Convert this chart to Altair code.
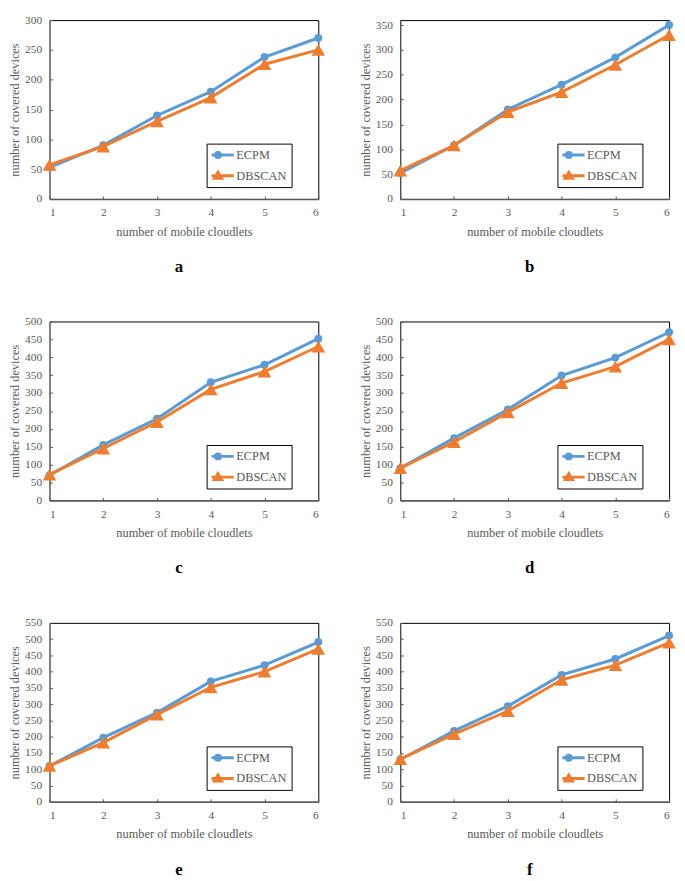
import altair as alt
import pandas as pd

# ---- data ----
x_vals = [1, 2, 3, 4, 5, 6]
series_names = ["ECPM", "DBSCAN"]

ecpm_a = [53, 90, 140, 180, 238, 270]
dbscan_a = [57, 88, 130, 170, 226, 250]
ecpm_b = [52, 108, 180, 230, 285, 350]
dbscan_b = [57, 108, 175, 215, 270, 330]
ecpm_c = [70, 155, 228, 330, 379, 452]
dbscan_c = [72, 145, 219, 310, 360, 430]
ecpm_d = [90, 174, 254, 349, 399, 470]
dbscan_d = [90, 163, 246, 328, 374, 450]
ecpm_e = [110, 197, 274, 370, 420, 491]
dbscan_e = [110, 182, 268, 352, 400, 470]
ecpm_f = [130, 218, 294, 390, 439, 511]
dbscan_f = [131, 208, 279, 375, 420, 489]

panel_letters = ["a", "b", "c", "d", "e", "f"]
y_max = [300, 360, 500, 500, 550, 550]
y_tick_top = [300, 350, 500, 500, 550, 550]

# ---- styling ----
FONT = "Liberation Serif"
GRAY = "#595959"
BLUE = "#5B9BD5"
ORANGE = "#ED7D31"
W = 272
H = 181

# legend symbols: a line segment with the series marker in the middle
CIRC = "M-3.2,0H3.2M-0.5,0A0.5,0.5,0,1,1,0.5,0A0.5,0.5,0,1,1,-0.5,0Z"
TRI = "M-3.2,0H3.2M0,-0.7L0.72,0.5L-0.72,0.5Z"


def panel(letter, ecpm, dbscan, ymax, ytop):
    df = pd.DataFrame({
        "x": x_vals * 2,
        "y": ecpm + dbscan,
        "series": [series_names[0]] * 6 + [series_names[1]] * 6,
    })
    yticks = list(range(0, ytop + 1, 50))
    xscale = alt.Scale(domain=[1, 6], nice=False, zero=False)
    yscale = alt.Scale(domain=[0, ymax], nice=False)
    cscale = alt.Scale(domain=series_names, range=[BLUE, ORANGE])

    main_x = alt.Axis(values=x_vals, format="d", title="number of mobile cloudlets",
                      grid=False, ticks=False, labelPadding=8, titlePadding=7,
                      domainColor=GRAY, domainWidth=1.5,
                      labelFont=FONT, labelFontSize=11.5, labelColor=GRAY,
                      titleFont=FONT, titleFontSize=12.5, titleColor=GRAY,
                      titleFontWeight="normal")
    main_y = alt.Axis(values=yticks, title="number of covered devices",
                      grid=False, ticks=False, domain=False, labelPadding=8,
                      titlePadding=3,
                      labelFont=FONT, labelFontSize=11.5, labelColor=GRAY,
                      titleFont=FONT, titleFontSize=12.5, titleColor=GRAY,
                      titleFontWeight="normal")
    tick_x = alt.Axis(orient="top", offset=-H, values=x_vals, labels=False,
                      domain=False, grid=False, ticks=True, tickSize=3,
                      tickColor=GRAY, tickWidth=1, title=None,
                      minExtent=0, maxExtent=0)
    tick_y = alt.Axis(orient="right", offset=-W, values=yticks, labels=False,
                      domain=False, grid=False, ticks=True, tickSize=3,
                      tickColor=GRAY, tickWidth=1, title=None,
                      minExtent=0, maxExtent=0)

    legend = alt.Legend(
        title=None, orient="none", legendX=W - 113, legendY=H - 56,
        direction="vertical", strokeColor="#000000", fillColor="white",
        padding=5, symbolSize=100, symbolStrokeWidth=3, labelOffset=12,
        rowPadding=8, clipHeight=13,
        labelFont=FONT, labelFontSize=12.5, labelColor=GRAY,
        symbolOpacity=1,
    )

    base = alt.Chart(df)
    blue_line = base.transform_filter(alt.datum.series == "ECPM").mark_line(
        strokeWidth=3, color=BLUE).encode(
        x=alt.X("x:Q", scale=xscale, axis=main_x),
        y=alt.Y("y:Q", scale=yscale, axis=main_y),
    )
    blue_pts = base.transform_filter(alt.datum.series == "ECPM").mark_point(
        filled=True, shape="circle", size=64, opacity=1, color=BLUE).encode(
        x=alt.X("x:Q", scale=xscale, axis=tick_x),
        y=alt.Y("y:Q", scale=yscale, axis=tick_y),
    )
    orange_line = base.transform_filter(alt.datum.series == "DBSCAN").mark_line(
        strokeWidth=3, color=ORANGE).encode(
        x=alt.X("x:Q", scale=xscale, axis=None),
        y=alt.Y("y:Q", scale=yscale, axis=None),
    )
    orange_pts = base.transform_filter(alt.datum.series == "DBSCAN").mark_point(
        filled=True, shape="triangle-up", size=190, opacity=1, color=ORANGE).encode(
        x=alt.X("x:Q", scale=xscale, axis=None),
        y=alt.Y("y:Q", scale=yscale, axis=None),
    )
    # legend-only layer: draws no marks (scales have explicit domains)
    legend_layer = base.transform_filter("false").mark_point(
        filled=True, strokeWidth=3, size=100).encode(
        x=alt.X("x:Q", scale=xscale, axis=None),
        y=alt.Y("y:Q", scale=yscale, axis=None),
        fill=alt.Fill("series:N", scale=cscale, legend=legend),
        stroke=alt.Stroke("series:N", scale=cscale, legend=legend),
        shape=alt.Shape("series:N",
                        scale=alt.Scale(domain=series_names, range=[CIRC, TRI]),
                        legend=legend),
    )
    return alt.layer(blue_line, blue_pts, orange_line, orange_pts, legend_layer).resolve_axis(
        x="independent", y="independent"
    ).properties(
        width=W, height=H,
        title=alt.TitleParams(text=letter, orient="bottom", anchor="middle",
                              frame="group", fontSize=17, font=FONT,
                              fontWeight="bold", color="black", offset=22, dx=-5),
    )


all_ecpm = [ecpm_a, ecpm_b, ecpm_c, ecpm_d, ecpm_e, ecpm_f]
all_dbscan = [dbscan_a, dbscan_b, dbscan_c, dbscan_d, dbscan_e, dbscan_f]
panels = [panel(panel_letters[i], all_ecpm[i], all_dbscan[i], y_max[i], y_tick_top[i])
          for i in range(6)]

chart = alt.concat(*panels, columns=2, spacing={"row": 124, "column": 83},
                   bounds="flush").resolve_scale(
    fill="independent", stroke="independent", shape="independent"
).resolve_legend(
    fill="independent", stroke="independent", shape="independent"
).properties(
    padding={"left": 0, "top": 0, "right": 0, "bottom": 0}
).configure_view(stroke="#000000", strokeWidth=1)

chart.save("out.html", embed_options={"renderer": "svg", "actions": False})
